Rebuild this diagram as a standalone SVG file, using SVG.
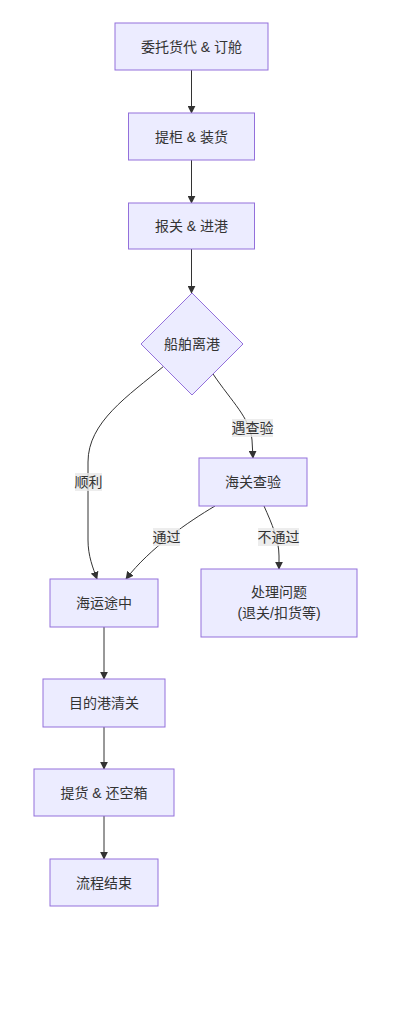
<svg xmlns="http://www.w3.org/2000/svg" width="407" height="1024" viewBox="0 0 407 1024">
<defs>
<marker id="arr" viewBox="0 0 10 10" refX="9" refY="5" markerWidth="8" markerHeight="8" markerUnits="userSpaceOnUse" orient="auto">
<path d="M0,0 L10,5 L0,10 z" fill="#333333"/>
</marker>
<style>
.n{fill:#ECECFF;stroke:#9370DB;stroke-width:1}
.t{font-family:"Liberation Sans","Noto Sans CJK SC",sans-serif;font-size:14px;fill:#333333;text-anchor:middle;dominant-baseline:central}
.e{fill:none;stroke:#333333;stroke-width:1;marker-end:url(#arr)}
.lb{fill:#E8E8E8;fill-opacity:0.8}
</style>
</defs>
<rect width="407" height="1024" fill="#ffffff"/>
<g id="edges">
<path class="e" d="M191.5,70 L191.5,113"/>
<path class="e" d="M191.5,160 L191.5,203"/>
<path class="e" d="M191.5,249 L191.5,293"/>
<path class="e" d="M164,366 C128,396 88,422 88,462 L88,540 C88,556 93,568 97,579"/>
<path class="e" d="M213,374 C232,402 250,418 252,440 L253,458"/>
<path class="e" d="M215,506 C188,522 150,548 126,579"/>
<path class="e" d="M264,506 C272,524 279,540 279,556 L279,569"/>
<path class="e" d="M104,627 L104,679"/>
<path class="e" d="M104,727 L104,769"/>
<path class="e" d="M104,816 L104,859"/>
</g>
<g id="edge-labels">
<rect class="lb" x="232" y="419" width="41" height="18"/>
<text class="t" x="252.5" y="428">遇查验</text>
<rect class="lb" x="75" y="473" width="27" height="18"/>
<text class="t" x="88.5" y="482">顺利</text>
<rect class="lb" x="153" y="528" width="27" height="18"/>
<text class="t" x="166.5" y="537">通过</text>
<rect class="lb" x="258" y="528" width="41" height="18"/>
<text class="t" x="278.5" y="537">不通过</text>
</g>
<g id="n1"><rect class="n" x="115" y="23" width="153" height="47"/><text class="t" x="191.5" y="46.5">委托货代 &amp; 订舱</text></g>
<g id="n2"><rect class="n" x="128.5" y="113" width="126" height="47"/><text class="t" x="191.5" y="136.5">提柜 &amp; 装货</text></g>
<g id="n3"><rect class="n" x="128.5" y="203" width="126" height="46"/><text class="t" x="191.5" y="226">报关 &amp; 进港</text></g>
<g id="n4"><polygon class="n" points="192,293 243,344 192,395 141,344"/><text class="t" x="192" y="344">船舶离港</text></g>
<g id="n5"><rect class="n" x="199" y="458" width="108" height="48"/><text class="t" x="253" y="482">海关查验</text></g>
<g id="n6"><rect class="n" x="201" y="569" width="156" height="68"/><text class="t" x="279" y="592">处理问题</text><text class="t" x="279" y="613">(退关/扣货等)</text></g>
<g id="n7"><rect class="n" x="50" y="579" width="108" height="48"/><text class="t" x="104" y="603">海运途中</text></g>
<g id="n8"><rect class="n" x="43" y="679" width="122" height="48"/><text class="t" x="104" y="703">目的港清关</text></g>
<g id="n9"><rect class="n" x="34" y="769" width="140" height="47"/><text class="t" x="104" y="792.5">提货 &amp; 还空箱</text></g>
<g id="n10"><rect class="n" x="50" y="859" width="108" height="47"/><text class="t" x="104" y="882.5">流程结束</text></g>
</svg>
